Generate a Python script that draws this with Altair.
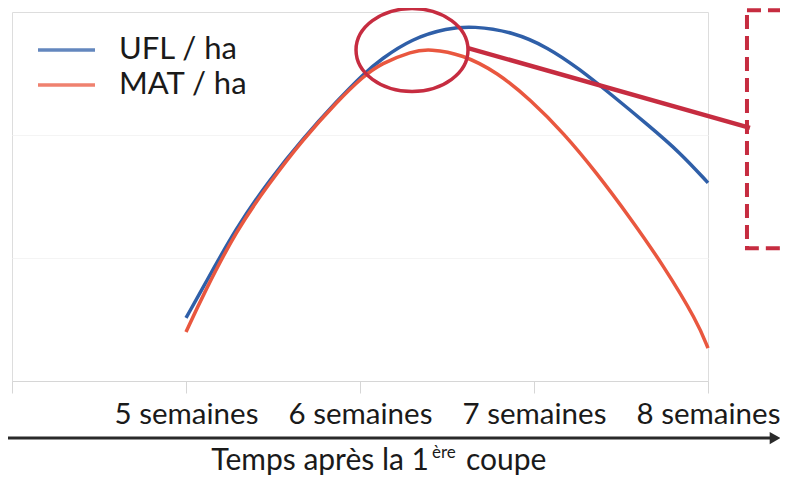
import altair as alt
import pandas as pd

# ---------------- data ----------------
series = ["UFL / ha", "MAT / ha"]
colors = ["#2f5fa8", "#e9573f"]

weeks_ufl = [5.0, 5.1, 5.29, 5.48, 5.67, 5.87, 6.02, 6.12, 6.3, 6.5, 6.65, 6.88, 7.08, 7.26, 7.45, 7.65, 7.84, 8.0]
ufl = [17.1, 25.5, 41.7, 54.5, 65.6, 76.0, 83.2, 87.2, 92.8, 95.6, 96.2, 94.6, 90.4, 84.6, 77.4, 69.6, 61.9, 53.7]

weeks_mat = [5.0, 5.1, 5.29, 5.48, 5.67, 5.87, 6.02, 6.12, 6.3, 6.4, 6.59, 6.79, 6.98, 7.17, 7.36, 7.55, 7.74, 7.94, 8.0]
mat = [13.3, 23.5, 40.9, 53.7, 65.3, 75.8, 82.6, 86.0, 89.4, 90.0, 88.5, 83.6, 76.2, 67.2, 56.4, 44.4, 31.6, 16.0, 8.9]

tick_weeks = [4, 5, 6, 7, 8]
tick_suffix = " semaines"
x_title = ["Temps après la 1", "ère", "coupe"]

df = pd.concat([
    pd.DataFrame({"semaine": weeks_ufl, "valeur": ufl, "serie": series[0]}),
    pd.DataFrame({"semaine": weeks_mat, "valeur": mat, "serie": series[1]}),
])

FONT = "Lato"
TXT = "#1a1a1a"
CRIMSON = "#c62c40"

xs = alt.Scale(domain=[4, 8], nice=False, zero=False)
ys = alt.Scale(domain=[0, 100], nice=False, zero=False)
cs = alt.Scale(domain=series, range=colors)

base = alt.Chart(df)

lines = base.mark_line(strokeWidth=3.5, interpolate="basis").encode(
    x=alt.X("semaine:Q", scale=xs,
            axis=alt.Axis(values=tick_weeks,
                          labelExpr=f"datum.value >= 5 ? datum.value + '{tick_suffix}' : ''",
                          title=None, grid=False, domainColor="#d6d6d6", tickColor="#d6d6d6",
                          tickSize=12, labelFontSize=29.5, labelFont=FONT, labelColor=TXT,
                          labelPadding=7, labelFlush=False, labelOverlap=False, labelBound=False)),
    y=alt.Y("valeur:Q", scale=ys,
            axis=alt.Axis(values=[100 / 3, 200 / 3], grid=True, gridColor="#f4f4f4",
                          labels=False, ticks=False, domain=False, title=None)),
    color=alt.Color("serie:N", scale=cs, legend=None),
    order=alt.Order("serie:N", sort="descending"),
)

# ---------------- legend (manual) ----------------
leg_df = pd.DataFrame({"serie": series, "rang": [0, 1]})
leg_y = alt.Y("rang:Q", scale=alt.Scale(domain=[0, 1], range=[38, 73], nice=False, zero=False),
              axis=None)
leg_lines = alt.Chart(leg_df).mark_rule(strokeWidth=3.5, opacity=0.75).encode(
    x=alt.value(26), x2=alt.value(83), y=leg_y,
    color=alt.Color("serie:N", scale=cs, legend=None),
)
leg_text = alt.Chart(leg_df).mark_text(align="left", baseline="middle", fontSize=31,
                                       font=FONT, color=TXT).encode(
    x=alt.value(107), y=leg_y, text="serie:N")

# ---------------- annotations ----------------
ell_df = pd.DataFrame({"x": [6.299], "y": [89.7]})
ellipse = alt.Chart(ell_df).mark_point(
    shape="M -1 0 A 1 0.74 0 1 1 1 0 A 1 0.74 0 1 1 -1 0 Z",
    size=112 * 112, filled=False, strokeWidth=3.5, color=CRIMSON, opacity=1,
).encode(x=alt.X("x:Q", scale=xs), y=alt.Y("y:Q", scale=ys))

link_df = pd.DataFrame({"x": [6.621], "y": [90.2], "x2": [8.241], "y2": [68.6]})
link = alt.Chart(link_df).mark_rule(strokeWidth=4.5, color=CRIMSON).encode(
    x=alt.X("x:Q", scale=xs), y=alt.Y("y:Q", scale=ys), x2="x2:Q", y2="y2:Q")

box_df = pd.DataFrame({"x": [8.224], "x2": [8.6], "y": [100.5], "y2": [36.0]})
box = alt.Chart(box_df).mark_rect(fillOpacity=0, stroke=CRIMSON, strokeWidth=4,
                                  strokeDash=[14, 7]).encode(
    x=alt.X("x:Q", scale=xs), x2="x2:Q", y=alt.Y("y:Q", scale=ys), y2="y2:Q")

arrow_df = pd.DataFrame({"x": [3.977], "x2": [8.36], "y": [-15.45]})
arrow_line = alt.Chart(arrow_df).mark_rule(strokeWidth=3, color="#2a2a2a").encode(
    x=alt.X("x:Q", scale=xs), x2="x2:Q", y=alt.Y("y:Q", scale=ys))
head_df = pd.DataFrame({"x": [8.385], "y": [-15.45]})
arrow_head = alt.Chart(head_df).mark_point(shape="triangle-right", size=150, filled=True,
                                           color="#2a2a2a", opacity=1).encode(
    x=alt.X("x:Q", scale=xs), y=alt.Y("y:Q", scale=ys))

# ---------------- axis title with superscript ----------------
t_df = pd.DataFrame({"t": x_title})
t1 = alt.Chart(t_df.iloc[[0]]).mark_text(align="right", baseline="alphabetic", fontSize=30,
                                          font=FONT, color=TXT).encode(
    x=alt.value(417), y=alt.value(458), text="t:N")
t2 = alt.Chart(t_df.iloc[[1]]).mark_text(align="left", baseline="alphabetic", fontSize=17,
                                          font=FONT, color=TXT).encode(
    x=alt.value(420), y=alt.value(446), text="t:N")
t3 = alt.Chart(t_df.iloc[[2]]).mark_text(align="left", baseline="alphabetic", fontSize=30,
                                          font=FONT, color=TXT).encode(
    x=alt.value(454), y=alt.value(458), text="t:N")

main = alt.layer(lines, ellipse, link, box, arrow_line, arrow_head, t1, t2, t3)
legend = alt.layer(leg_lines, leg_text)

chart = alt.layer(main, legend).resolve_scale(y="independent").properties(
    width=696, height=369,
    autosize=alt.AutoSizeParams(type="none"),
    padding={"left": 4, "top": 4, "right": 72, "bottom": 95},
).configure_view(stroke="#e6e6e6").configure(font=FONT)

chart.save("out.html", embed_options={"renderer": "svg", "actions": False})
